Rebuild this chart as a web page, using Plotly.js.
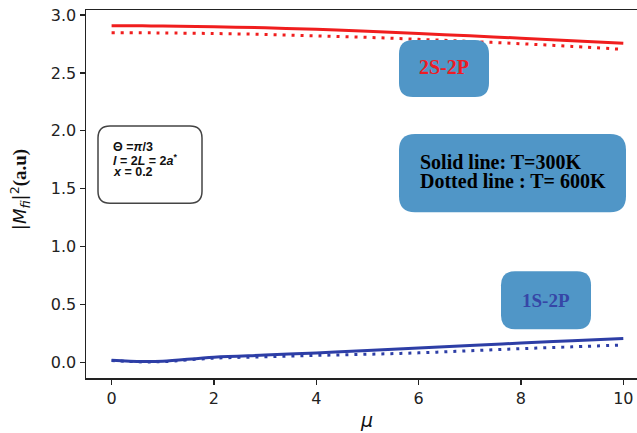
<!DOCTYPE html>
<html><head><meta charset="utf-8">
<script src="https://cdn.plot.ly/plotly-3.0.1.min.js"></script>
<style>html,body{margin:0;padding:0;background:#fff}</style>
</head><body>
<div id="chart" style="width:637px;height:433px"></div>
<script>
// data
const mu = [0, 0.6, 1, 2, 3, 4, 5, 6, 7, 8, 9, 10];
const s2p_300 = [2.907, 2.906, 2.905, 2.899, 2.889, 2.876, 2.86, 2.84, 2.82, 2.80, 2.778, 2.755];
const s2p_600 = [2.847, 2.846, 2.845, 2.840, 2.832, 2.82, 2.807, 2.79, 2.772, 2.752, 2.729, 2.703];
const s1p_300 = [0.020, 0.009, 0.012, 0.047, 0.065, 0.083, 0.104, 0.126, 0.147, 0.169, 0.188, 0.207];
const s1p_600 = [0.018, 0.006, 0.008, 0.038, 0.050, 0.062, 0.072, 0.084, 0.102, 0.120, 0.136, 0.152];
const xTicks = [0, 2, 4, 6, 8, 10];
const yTicks = [0.0, 0.5, 1.0, 1.5, 2.0, 2.5, 3.0];
const paramLines = ['<b>Θ =<i>π</i>/3</b>', '<b><i>l</i> = 2<i>L</i> = 2<i>a</i><sup>*</sup></b>', '<b><i>x</i> = 0.2</b>'];
const legendLines = ['<b>Solid line: T=300K</b>', '<b>Dotted line : T= 600K</b>'];

const W = 637, H = 433;
const mL = 86, mR = 0, mT = 10, mB = 55.3;
const pw = W - mL - mR, ph = H - mT - mB;
const px = v => (v - mL) / pw;
const py = v => (H - mB - v) / ph;

function rrect(x0, y0, x1, y1, r) {
  const rx = r / pw, ry = r / ph;
  const a = px(x0), b = px(x1), t = py(y0), bt = py(y1);
  return `M${a + rx},${t} L${b - rx},${t} Q${b},${t} ${b},${t - ry} L${b},${bt + ry} Q${b},${bt} ${b - rx},${bt} L${a + rx},${bt} Q${a},${bt} ${a},${bt + ry} L${a},${t - ry} Q${a},${t} ${a + rx},${t} Z`;
}

const red = '#f01e1e', blue = '#2d3ea6', boxFill = '#5096c7';

const traces = [
  {x: mu, y: s2p_300, mode: 'lines', line: {color: red, width: 3, shape: 'spline'}},
  {x: mu, y: s2p_600, mode: 'lines', line: {color: red, width: 3, dash: '3px,6px', shape: 'spline'}},
  {x: mu, y: s1p_300, mode: 'lines', line: {color: blue, width: 3, shape: 'spline'}},
  {x: mu, y: s1p_600, mode: 'lines', line: {color: blue, width: 3, dash: '3px,6px', shape: 'spline'}}
];

const shapes = [
  {type: 'path', xref: 'paper', yref: 'paper', path: rrect(98, 126, 202, 203, 12), line: {color: '#444', width: 1.5}, fillcolor: 'white', layer: 'above'},
  {type: 'path', xref: 'paper', yref: 'paper', path: rrect(399, 40, 489, 97, 14), line: {width: 0}, fillcolor: boxFill, layer: 'above'},
  {type: 'path', xref: 'paper', yref: 'paper', path: rrect(399, 134, 626, 212, 16), line: {width: 0}, fillcolor: boxFill, layer: 'above'},
  {type: 'path', xref: 'paper', yref: 'paper', path: rrect(501, 271, 591, 329, 14), line: {width: 0}, fillcolor: boxFill, layer: 'above'}
];

const serif = 'Liberation Serif, Times New Roman, serif';
const annotations = [];
const paramY = [147, 160, 172];
paramLines.forEach((t, i) => annotations.push({xref: 'paper', yref: 'paper', x: px(111), y: py(paramY[i]), xanchor: 'left', yanchor: 'middle',
  showarrow: false, text: t, font: {family: 'Liberation Sans', size: 12.5, color: '#111'}}));
const legY = [162, 181];
legendLines.forEach((t, i) => annotations.push({xref: 'paper', yref: 'paper', x: px(418), y: py(legY[i]), xanchor: 'left', yanchor: 'middle',
  showarrow: false, text: t, font: {family: serif, size: 20, color: '#000'}}));
annotations.push(
  {xref: 'paper', yref: 'paper', x: px(444), y: py(67), xanchor: 'center', yanchor: 'middle', showarrow: false,
   text: '<b>2S-2P</b>', font: {family: serif, size: 20, color: '#ee1c24'}},
  {xref: 'paper', yref: 'paper', x: px(546), y: py(300), xanchor: 'center', yanchor: 'middle', showarrow: false,
   text: '<b>1S-2P</b>', font: {family: serif, size: 19, color: '#3646a6'}},
  {xref: 'paper', yref: 'paper', x: px(20), y: py(190), xanchor: 'center', yanchor: 'middle', textangle: -90, showarrow: false,
   text: '|<i>M</i><sub><i>fi</i></sub>|<sup>2</sup><span style="font-family:Liberation Serif;font-weight:bold;font-size:19px">(a.u)</span>',
   font: {family: 'DejaVu Sans', size: 18, color: '#111'}},
  {xref: 'paper', yref: 'paper', x: px(366), y: py(420), xanchor: 'center', yanchor: 'middle', showarrow: false,
   text: '<i>μ</i>', font: {family: 'DejaVu Sans', size: 19, color: '#111'}}
);

const tickFont = {family: 'DejaVu Sans', size: 16, color: '#222'};
const layout = {
  width: W, height: H,
  margin: {l: mL, r: mR, t: mT, b: mB, pad: 0},
  paper_bgcolor: 'white', plot_bgcolor: 'white',
  showlegend: false,
  xaxis: {range: [-0.5, (W - 111.7) / 51.16], tickvals: xTicks, ticktext: xTicks.map(String),
          showgrid: false, zeroline: false, showline: true, mirror: true, linecolor: '#222', linewidth: 1.5,
          ticks: 'outside', ticklen: 5, tickwidth: 1.2, tickcolor: '#222', tickfont: tickFont},
  yaxis: {range: [-0.133, 3.043], tickvals: yTicks, ticktext: yTicks.map(v => v.toFixed(1)),
          showgrid: false, zeroline: false, showline: true, linecolor: '#222', linewidth: 1.5,
          ticks: 'outside', ticklen: 5, tickwidth: 1.2, tickcolor: '#222', tickfont: tickFont},
  shapes: shapes,
  annotations: annotations
};

Plotly.newPlot('chart', traces, layout, {displayModeBar: false, staticPlot: true});
</script>
</body></html>
